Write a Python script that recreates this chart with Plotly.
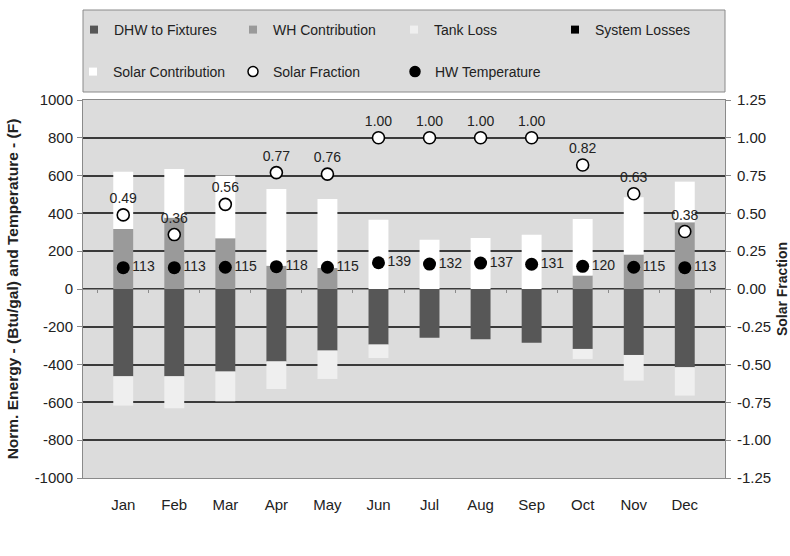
import plotly.graph_objects as go

months = ["Jan", "Feb", "Mar", "Apr", "May", "Jun", "Jul", "Aug", "Sep", "Oct", "Nov", "Dec"]
dhw_to_fixtures = [-462, -462, -437, -383, -326, -294, -258, -266, -284, -317, -349, -414]
wh_contribution = [317, 377, 268, 123, 111, 0, 0, 0, 0, 71, 182, 353]
tank_loss = [-155, -169, -157, -146, -150, -71, 0, 0, 0, -53, -136, -150]
system_losses = [0, 0, 0, 0, 0, 0, 0, 0, 0, 0, 0, 0]
solar_contribution = [303, 258, 332, 406, 365, 367, 261, 270, 287, 299, 303, 215]
solar_fraction = [0.49, 0.36, 0.56, 0.77, 0.76, 1.00, 1.00, 1.00, 1.00, 0.82, 0.63, 0.38]
hw_temperature = [113, 113, 115, 118, 115, 139, 132, 137, 131, 120, 115, 113]

left_tick_vals = [-1000, -800, -600, -400, -200, 0, 200, 400, 600, 800, 1000]
left_tick_text = ["-1000", "-800", "-600", "-400", "-200", "0", "200", "400", "600", "800", "1000"]
right_tick_vals = [-1.25, -1.0, -0.75, -0.5, -0.25, 0.0, 0.25, 0.5, 0.75, 1.0, 1.25]
right_tick_text = ["-1.25", "-1.00", "-0.75", "-0.50", "-0.25", "0.00", "0.25", "0.50",
                   "0.75", "1.00", "1.25"]

FONT = "Liberation Sans, Arial, sans-serif"
TXT = "#222222"

# plot-area geometry in pixels (used to place the legend entries)
W, H = 790, 556
ML, MR, MT, MB = 83, 65, 100, 78
PW = W - ML - MR
PH = H - MT - MB


def px_x(px):
    return (px - ML) / PW


def px_y(py):
    return (H - MB - py) / PH


fig = go.Figure()

bar_common = dict(width=0.39, marker_line_width=0, showlegend=False)
fig.add_trace(go.Bar(x=months, y=dhw_to_fixtures, name="DHW to Fixtures",
                     marker_color="#575757", **bar_common))
fig.add_trace(go.Bar(x=months, y=wh_contribution, name="WH Contribution",
                     marker_color="#9a9a9a", **bar_common))
fig.add_trace(go.Bar(x=months, y=tank_loss, name="Tank Loss",
                     marker_color="#efefef", **bar_common))
fig.add_trace(go.Bar(x=months, y=system_losses, name="System Losses",
                     marker_color="#000000", **bar_common))
fig.add_trace(go.Bar(x=months, y=solar_contribution, name="Solar Contribution",
                     marker_color="#ffffff", **bar_common))

fig.add_trace(go.Scatter(
    x=months, y=solar_fraction, name="Solar Fraction", yaxis="y2",
    mode="markers+text", text=[f"{v:.2f}" for v in solar_fraction],
    textposition="top center", textfont=dict(size=14, color=TXT, family=FONT),
    marker=dict(size=12, color="#ffffff", line=dict(color="#000000", width=1.6)),
    showlegend=False, cliponaxis=False))

fig.add_trace(go.Scatter(
    x=months, y=hw_temperature, name="HW Temperature",
    mode="markers+text", text=[str(v) for v in hw_temperature],
    textposition="middle right", textfont=dict(size=14, color=TXT, family=FONT),
    marker=dict(size=13, color="#000000"),
    showlegend=False, cliponaxis=False))

# invisible helper trace for the category axis crossing at zero
fig.add_trace(go.Scatter(x=months, y=[None] * 12, xaxis="x2", mode="none",
                         showlegend=False, hoverinfo="skip"))

# legend entries (Excel-like small symbols), one legend per entry
legend_entries = [
    ("DHW to Fixtures", "square", "#575757", "#575757", 115, 30),
    ("WH Contribution", "square", "#9a9a9a", "#9a9a9a", 274, 30),
    ("Tank Loss", "square", "#efefef", "#efefef", 435, 30),
    ("System Losses", "square", "#000000", "#000000", 596, 30),
    ("Solar Contribution", "square", "#ffffff", "#ffffff", 114, 72),
    ("Solar Fraction", "circle", "#ffffff", "#000000", 274, 72),
    ("HW Temperature", "circle", "#000000", "#000000", 436, 72),
]
legend_layout = {}
for i, (name, sym, fill, edge, text_px, row_py) in enumerate(legend_entries):
    key = "legend" if i == 0 else f"legend{i + 1}"
    size = 8 if sym == "square" else 10
    fig.add_trace(go.Scatter(
        x=[None], y=[None], name=name, mode="markers", legend=key,
        marker=dict(symbol=sym, size=size, color=fill,
                    line=dict(color=edge, width=1.5 if sym == "circle" else 0)),
        hoverinfo="skip"))
    legend_layout[key] = dict(
        orientation="h", x=px_x(text_px - 41), xanchor="left",
        y=px_y(row_py), yanchor="middle", bgcolor="rgba(0,0,0,0)", borderwidth=0,
        font=dict(size=14, color=TXT, family=FONT))

fig.update_layout(
    width=W, height=H,
    margin=dict(l=ML, r=MR, t=MT, b=MB, autoexpand=False),
    paper_bgcolor="#ffffff",
    plot_bgcolor="#dcdcdc",
    barmode="relative",
    font=dict(family=FONT, size=15, color=TXT),
    showlegend=True,
    xaxis=dict(
        type="category", showgrid=False, showline=True, mirror=True,
        linecolor="#8a8a8a", linewidth=1, ticks="", ticklabelstandoff=13,
        tickfont=dict(size=15, color=TXT, family=FONT), zeroline=False,
    ),
    xaxis2=dict(
        type="category", overlaying="x", matches="x", anchor="free", position=0.5,
        showline=True, linecolor="#8a8a8a", linewidth=1, ticks="outside",
        tickson="boundaries", ticklen=3, tickcolor="#8a8a8a",
        showticklabels=False, showgrid=False, zeroline=False, layer="below traces",
    ),
    yaxis=dict(
        range=[-1000, 1000], tickvals=left_tick_vals, ticktext=left_tick_text,
        showgrid=True, gridcolor="#3a3a3a", automargin=False,
        gridwidth=1.5, zeroline=False, showline=True, linecolor="#8a8a8a",
        ticks="outside", ticklen=5, tickcolor="#8a8a8a", ticklabelstandoff=1,
        tickfont=dict(size=15, color=TXT, family=FONT),
        title=dict(text="<b>Norm. Energy - (Btu/gal) and Temperature - (F)</b>",
                   font=dict(size=15.5, color=TXT, family=FONT), standoff=12),
    ),
    yaxis2=dict(
        range=[-1.25, 1.25], tickvals=right_tick_vals, ticktext=right_tick_text,
        overlaying="y", automargin=False,
        side="right", showgrid=False, zeroline=False, showline=True,
        linecolor="#8a8a8a", ticks="outside", ticklen=5, tickcolor="#8a8a8a",
        ticklabelstandoff=3, tickfont=dict(size=15, color=TXT, family=FONT),
        title=dict(text="<b>Solar Fraction</b>",
                   font=dict(size=14, color=TXT, family=FONT), standoff=6),
    ),
    shapes=[dict(type="rect", xref="paper", yref="paper",
                 x0=0, x1=1, y0=px_y(92), y1=px_y(10),
                 fillcolor="#dcdcdc", line=dict(color="#8a8a8a", width=1),
                 layer="below")],
    **legend_layout,
)

fig.write_html("out.html",
               config={"displayModeBar": False},
               post_script="document.body.style.margin='0';"
                           "document.body.style.overflow='hidden';")
